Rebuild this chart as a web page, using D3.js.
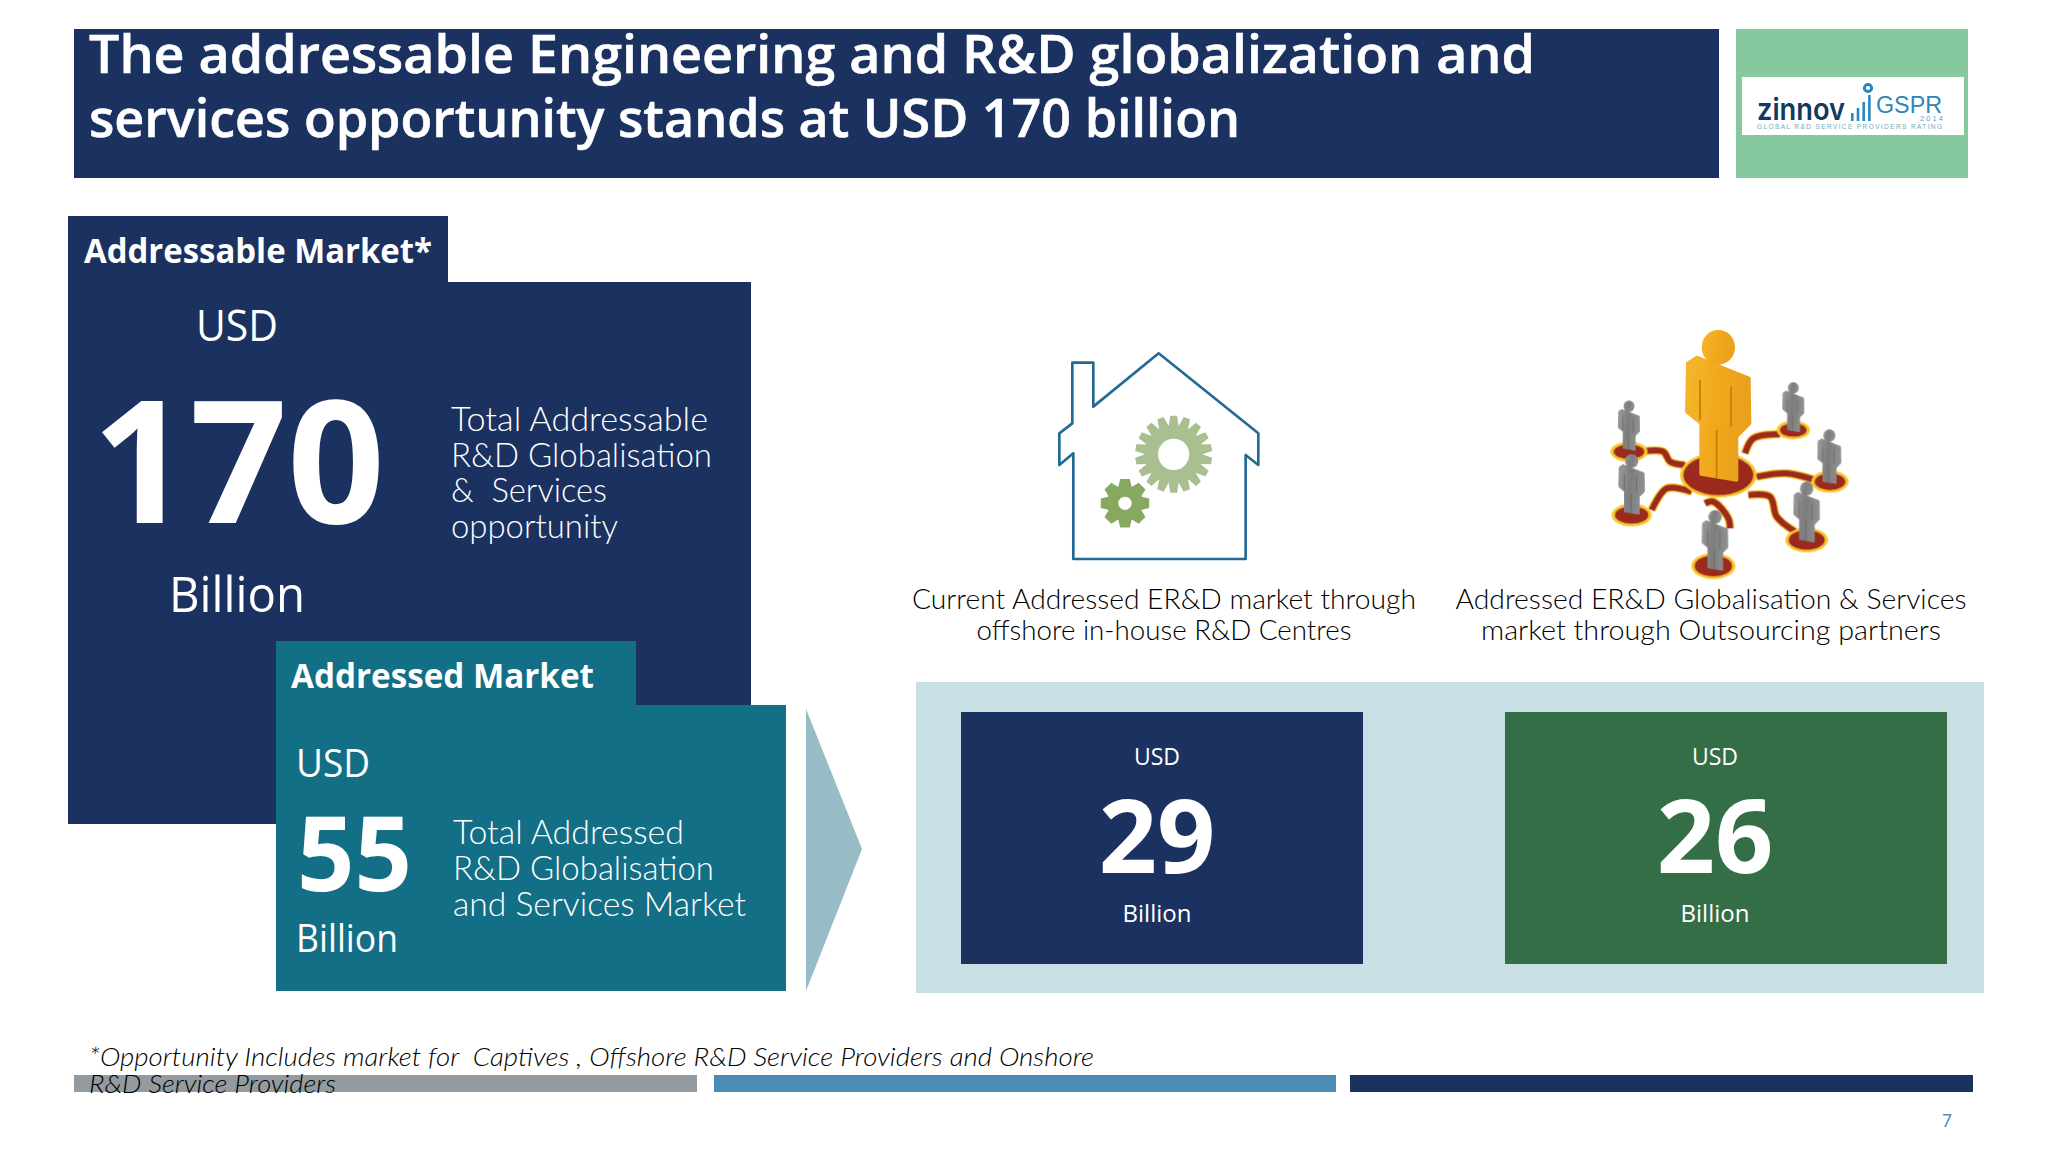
<!DOCTYPE html>
<html>
<head>
<meta charset="utf-8">
<script src="https://cdn.jsdelivr.net/npm/d3@7"></script>
<style>
html,body{margin:0;padding:0;background:#fff;}
svg{display:block;}
</style>
</head>
<body>
<svg id="slide" width="2048" height="1152"></svg>
<script>
// values
const titleLines = ["The addressable Engineering and R&D globalization and","services opportunity stands at USD 170 billion"];
const marketNames = ["Addressable Market*","Addressed Market"];
const marketValues = [170,55];
const marketNotes = [
    ["Total Addressable","R&D Globalisation","&  Services","opportunity"],
    ["Total Addressed","R&D Globalisation","and Services Market"]
];
const channelNames = [
    ["Current Addressed ER&D market through","offshore in-house R&D Centres"],
    ["Addressed ER&D Globalisation & Services","market through Outsourcing partners"]
];
const channelValues = [29,26];
const footnoteLines = ["*Opportunity Includes market for  Captives , Offshore R&D Service Providers and Onshore","R&D Service Providers"];

const NAVY = "#1b3160", TEAL = "#136f85", GREEN = "#336e47";
const SANS = "'Open Sans',sans-serif", BODY = "Lato,sans-serif", LOGO = "'Liberation Sans',sans-serif";

const svg = d3.select("#slide");

// soft edges and shading for the pasted in clip art
const defs = svg.append("defs");
defs.append("filter").attr("id","soft").append("feGaussianBlur").attr("stdDeviation",2);
function shade(id,colors){
    const g = defs.append("linearGradient").attr("id",id).attr("x1",0).attr("y1",0).attr("x2",1).attr("y2",.2);
    colors.forEach((c,i)=>g.append("stop").attr("offset",i/(colors.length-1)).attr("stop-color",c));
}
shade("gold",["#f5b62c","#f2a91e","#e9a01a"]);
shade("grey",["#9a9a9a","#7d7d7d","#8f8f8f"]);

function rect(x,y,w,h,fill){
    return svg.append("rect").attr("x",x).attr("y",y).attr("width",w).attr("height",h).attr("fill",fill);
}
// w = width the text has in the slide, the fonts differ a bit
function label(parent,str,x,y,size,o){
    o = o || {};
    const t = parent.append("text")
        .attr("x",x).attr("y",y)
        .attr("font-family",o.font || SANS)
        .attr("font-size",size)
        .attr("font-weight",o.weight || 400)
        .attr("font-style",o.style || "normal")
        .attr("fill",o.fill || "#fff")
        .attr("text-anchor",o.anchor || "start")
        .style("white-space","pre")
        .text(str);
    if(o.w) t.attr("textLength",o.w).attr("lengthAdjust",o.adjust || "spacingAndGlyphs");
    return t;
}

//// header
rect(74,29,1645,149,NAVY);
rect(1736,29,232,149,"#86c99f");
const titleY = d3.scaleOrdinal().domain(titleLines).range([73,137]);
const titleW = d3.scaleOrdinal().domain(titleLines).range([1446,1151]);
titleLines.forEach(d=>label(svg,d,89,titleY(d),53,{weight:600,w:titleW(d)}).attr("stroke","#fff").attr("stroke-width",.6));

//// logo
rect(1742,77,222,58,"#fff");
label(svg,"zinnov",1757,120,30,{font:"Inter,sans-serif",weight:600,fill:"#123a5e",w:88});
svg.selectAll(".logobar").data([8,13,19,26]).enter().append("rect")
    .attr("x",(d,i)=>1851+i*5.7).attr("y",d=>121-d).attr("width",2.6).attr("height",d=>d).attr("fill","#2b86bd");
svg.append("circle").attr("cx",1868).attr("cy",88).attr("r",3.6)
    .attr("fill","none").attr("stroke","#2b86bd").attr("stroke-width",3);
label(svg,"GSPR",1876,113,23,{font:LOGO,fill:"#2b86bd",w:66});
label(svg,"2014",1920,121,7.5,{font:LOGO,fill:"#5fa0c4",w:23,adjust:"spacing"});
label(svg,"GLOBAL R&D SERVICE PROVIDERS RATING",1757,129,6.5,{font:LOGO,fill:"#6fa8bf",w:185,adjust:"spacing"});

//// market panels, big one first so the teal one sits over it
const panelFill = d3.scaleOrdinal().domain(marketValues).range([NAVY,TEAL]);
rect(68,216,380,70,panelFill(170));
rect(68,282,683,542,panelFill(170));
rect(276,641,360,70,panelFill(55));
rect(276,705,510,286,panelFill(55));

const tabText = d3.scaleOrdinal().domain(marketNames).range([[84,263,348],[291,688,303]]);
marketNames.forEach(n=>{
    const p = tabText(n);
    label(svg,n,p[0],p[1],34,{weight:700,w:p[2]});
});

label(svg,"USD",196,341,43,{w:82});
label(svg,marketValues[0],92,523,170,{weight:700,w:293});
label(svg,"Billion",169,612,50,{w:136});
const noteY0 = d3.scalePoint().domain(d3.range(4)).range([431,538]);
marketNotes[0].forEach((l,i)=>label(svg,l,451,noteY0(i),33,{font:BODY,weight:300,w:[257,261,156,167][i]}));

label(svg,"USD",296,777,38,{w:74});
label(svg,marketValues[1],297,891,104,{weight:700,w:115});
label(svg,"Billion",296,952,38,{w:102});
const noteY1 = d3.scalePoint().domain(d3.range(3)).range([844,916]);
marketNotes[1].forEach((l,i)=>label(svg,l,453,noteY1(i),33,{font:BODY,weight:300,w:[231,261,293][i]}));

// chevron between the panels
svg.append("path").attr("d",d3.line()([[806,709],[862,849],[806,991]])+"Z").attr("fill","#97bcc5");

//// split of the addressed market
rect(916,682,1068,311,"#c8e0e3");
const channelX = d3.scaleOrdinal().domain(channelValues).range([961,1505]);
const channelW = d3.scaleOrdinal().domain(channelValues).range([402,442]);
const channelFill = d3.scaleOrdinal().domain(channelValues).range([NAVY,GREEN]);
const channelMid = d3.scaleOrdinal().domain(channelValues).range([1157,1715]);

const cards = svg.selectAll(".card").data(channelValues).enter().append("g").attr("class","card");
cards.append("rect")
    .attr("x",d=>channelX(d)).attr("y",712)
    .attr("width",d=>channelW(d)).attr("height",252)
    .attr("fill",d=>channelFill(d));
cards.each(function(d){
    const g = d3.select(this), m = channelMid(d);
    label(g,"USD",m,765,23,{anchor:"middle"});
    label(g,d,m,873,102,{weight:700,anchor:"middle"});
    label(g,"Billion",m,922,24,{anchor:"middle"});
});

const capX = d3.scaleOrdinal().domain([0,1]).range([1164,1711]);
channelNames.forEach((lines,k)=>{
    lines.forEach((l,i)=>{
        label(svg,l,capX(k),609+i*31,28,{font:BODY,weight:300,fill:"#000",anchor:"middle",
            w:[[504,375],[511,460]][k][i]});
    });
});

//// house icon, traced in zoomed crop units
function gear(cx,cy,rOut,rIn,hole,teeth,fill){
    const pts = [];
    d3.range(teeth).forEach(i=>{
        const a = i/teeth*2*Math.PI, st = Math.PI/teeth;
        pts.push([a-st*.95,rIn],[a-st*.5,rOut],[a+st*.5,rOut],[a+st*.95,rIn]);
    });
    house.append("path")
        .attr("transform","translate("+cx+","+cy+")")
        .attr("d",d3.lineRadial().curve(d3.curveLinearClosed)(pts))
        .attr("fill",fill);
    house.append("circle").attr("cx",cx).attr("cy",cy).attr("r",hole).attr("fill","#fff");
}
const house = svg.append("g").attr("transform","translate(1000,300) scale(.3333)").attr("filter","url(#soft)");
house.append("path")
    .attr("d",d3.line()([[217,188],[280,188],[280,320],[476,160],[775,400],[775,495],[737,465],[737,777],[220,777],[220,460],[178,495],[178,400],[217,370]])+"Z")
    .attr("fill","none").attr("stroke","#236a94").attr("stroke-width",8).attr("stroke-linejoin","round");
gear(521,463,116,88,47,18,"#a9bf8f");
gear(375,610,74,54,20,8,"#86a85f");

//// people icon
const people = svg.append("g").attr("transform","translate(1580,310) scale(.3333)").attr("filter","url(#soft)");
const links = [
    [[185,425],[250,425],[270,455],[315,465]],
    [[215,600],[260,535],[335,545]],
    [[375,580],[400,575],[445,625],[450,655]],
    [[505,555],[570,560],[590,620],[645,665]],
    [[530,500],[620,490],[705,510]],
    [[495,430],[520,385],[600,372]]
];
const linkPath = d3.line().curve(d3.curveCatmullRom);
people.selectAll(".halo").data(links).enter().append("path")
    .attr("d",d=>linkPath(d)).attr("fill","none").attr("stroke","#f7c52b").attr("stroke-width",25);
people.selectAll(".link").data(links).enter().append("path")
    .attr("d",d=>linkPath(d)).attr("fill","none").attr("stroke","#9b2a1e").attr("stroke-width",18);

function disc(cx,cy,rx,ry){
    people.append("ellipse").attr("cx",cx).attr("cy",cy).attr("rx",rx+10).attr("ry",ry+8).attr("fill","#f7c52b");
    people.append("ellipse").attr("cx",cx).attr("cy",cy).attr("rx",rx).attr("ry",ry).attr("fill","#9b2a1e");
}
// figure drawn 185 wide and 450 high, feet at 0,0
function figure(cx,base,k,main,side){
    const g = people.append("g").attr("transform","translate("+cx+","+base+") scale("+k+")");
    g.append("path")
        .attr("d",d3.line()([[-92,-350],[-65,-368],[92,-305],[94,-170],[55,-130],[55,0],[-52,-18],[-52,-170],[-95,-205]])+"Z")
        .attr("fill",main).attr("stroke",main).attr("stroke-width",10).attr("stroke-linejoin","round");
    g.append("ellipse").attr("cx",0).attr("cy",-398).attr("rx",50).attr("ry",52).attr("fill",main);
    g.append("path").attr("d","M-55,-300V-180M38,-280V-160M-5,-150V-5").attr("stroke",side).attr("stroke-width",6).attr("fill","none");
}
disc(147,425,46,22);
disc(640,360,40,20);
disc(750,515,46,25);
disc(155,615,50,26);
disc(680,690,54,29);
disc(400,768,56,31);
disc(415,495,105,60);
figure(147,420,.33,"url(#grey)","#666");
figure(640,365,.33,"url(#grey)","#666");
figure(748,520,.36,"url(#grey)","#666");
figure(155,612,.40,"url(#grey)","#666");
figure(680,695,.40,"url(#grey)","#666");
figure(405,780,.40,"url(#grey)","#666");
figure(415,510,1,"url(#gold)","#c4860f");

//// footer
rect(74,1075,623,17,"#939ba1");
rect(714,1075,622,17,"#4a8bb8");
rect(1350,1075,623,17,NAVY);
footnoteLines.forEach((l,i)=>{
    label(svg,l,89,1066+i*27,25,{font:BODY,weight:300,style:"italic",fill:"#000",w:[1005,247][i]});
});
label(svg,"7",1942,1127,17,{font:BODY,fill:"#4a8bb8"});
</script>
</body>
</html>
